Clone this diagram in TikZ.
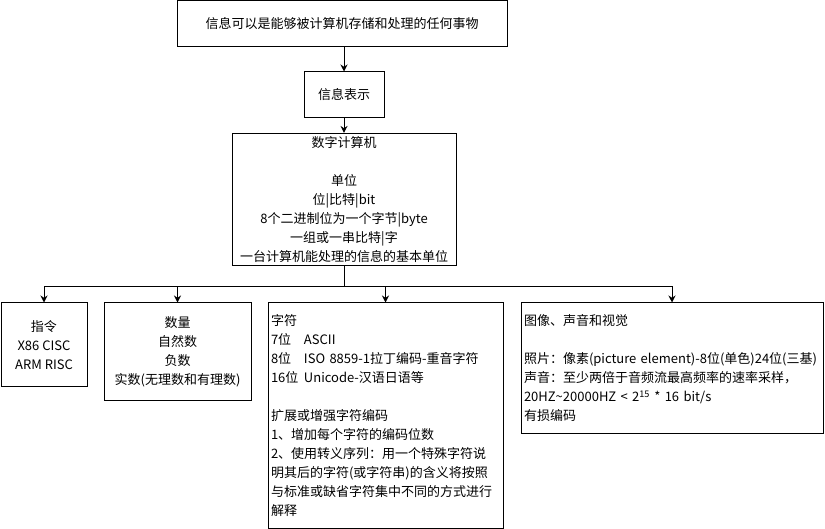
\documentclass[tikz,border=0pt]{standalone}
\usepackage{fontspec}
\setmainfont{Noto Sans CJK SC}
\usetikzlibrary{arrows.meta}
\tikzstyle{box} = [rectangle, draw=black, line width=1pt, inner sep=3pt, font=\fontsize{13}{19}\selectfont]
\tikzstyle{arrow} = [line width=1pt, -{Stealth[length=7pt,width=7pt]}]
\tikzstyle{line} = [line width=1pt]
\newcommand{\bitcol}[1]{\makebox[33pt][l]{#1}}

\begin{document}
\begin{tikzpicture}[x=1pt, y=-1pt]
\useasboundingbox (0,0) rectangle (825,529);
\node (fact) [box, minimum width=330pt, minimum height=46pt] at (342,24) {信息可以是能够被计算机存储和处理的任何事物};
\node (repr) [box, minimum width=80pt, minimum height=46pt] at (344,95) {信息表示};
\node (comp) [box, align=center, minimum width=224pt, minimum height=131pt] at (344,199.5) {数字计算机\\[19pt]单位\\位|比特|bit\\8个二进制位为一个字节|byte\\一组或一串比特|字\\一台计算机能处理的信息的基本单位};
\coordinate (bus) at (344,287);
\node (instr) [box, align=center, minimum width=86pt, minimum height=84pt] at (44,345) {指令\\X86 CISC\\ARM RISC};
\node (num) [box, align=center, minimum width=147pt, minimum height=97pt] at (177.5,351.5) {数量\\自然数\\负数\\实数(无理数和有理数)};
\node (char) [box, align=left, text width=229pt, minimum height=225pt] at (385.5,415.5) {字符\\
\bitcol{7位}ASCII\\
\bitcol{8位}ISO 8859-1拉丁编码-重音字符\\
\bitcol{16位}Unicode-汉语日语等\\[19pt]
扩展或增强字符编码\\
1、增加每个字符的编码位数\\
2、使用转义序列：用一个特殊字符说\\
明其后的字符(或字符串)的含义将按照\\
与标准或缺省字符集中不同的方式进行\\
解释};
\node (media) [box, align=left, text width=296pt, minimum height=130pt] at (672,368) {图像、声音和视觉\\[19pt]
照片：像素(picture element)-8位(单色)24位(三基)\\
声音：至少两倍于音频流最高频率的速率采样，\\
20HZ\textasciitilde 20000HZ < 2\textsuperscript{15} * 16 bit/s\\
有损编码};

\draw [arrow] (repr.north |- fact.south) -- (repr.north);
\draw [arrow] (repr) -- (comp);
\draw [line] (comp) -- (bus);
\draw [arrow] (bus) -| (instr);
\draw [arrow] (bus) -| (num);
\draw [arrow] (bus) -| (char);
\draw [arrow] (bus) -| (media);

\end{tikzpicture}
\end{document}
